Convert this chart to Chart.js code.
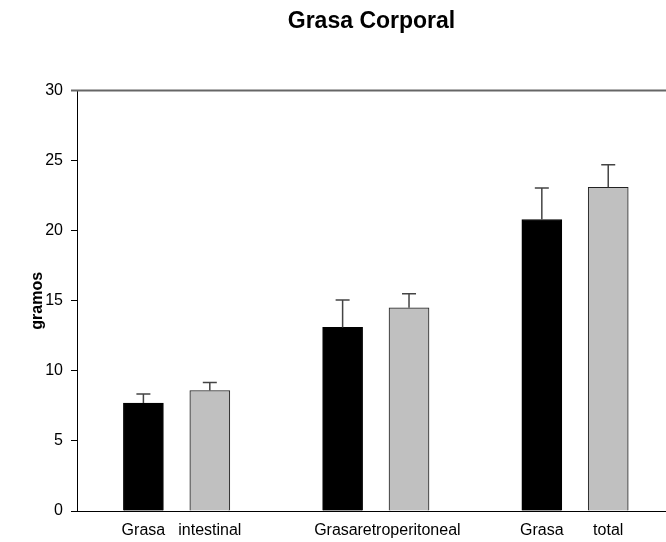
<!DOCTYPE html>
<html>
<head>
<meta charset="utf-8">
<script src="https://cdn.jsdelivr.net/npm/chart.js@4.4.0/dist/chart.umd.min.js"></script>
<style>
  body { margin: 0; background: #fff; }
</style>
</head>
<body>
<canvas id="graph1" width="666" height="542"></canvas>
<script>
// data
var groupNames = ['Grasa intestinal', 'Grasa retroperitoneal', 'Grasa total'];
var tickLabels = ['Grasa', 'intestinal', 'Grasa', 'retroperitoneal', 'Grasa', 'total'];
var blackValues = [7.7, 13.1, 20.8];
var blackErrors = [0.65, 1.95, 2.25];
var greyValues = [8.6, 14.5, 23.1];
var greyErrors = [0.57, 1.0, 1.6];
var yTicks = [0, 5, 10, 15, 20, 25, 30];

var font = "'Liberation Sans', Arial, sans-serif";

// each group takes 3 slots on the x scale: black bar, grey bar, gap
function toPoints(values, slot) {
  return values.map(function (v, g) {
    return { x: g * 3 + slot, y: v };
  });
}

// upper error bars with a cap
var errorBars = {
  id: 'errorBars',
  afterDatasetsDraw: function (chart) {
    var ctx = chart.ctx;
    var yScale = chart.scales.y;
    chart.data.datasets.forEach(function (ds, i) {
      chart.getDatasetMeta(i).data.forEach(function (bar, j) {
        var top = yScale.getPixelForValue(ds.data[j].y + ds.errors[j]);
        ctx.save();
        ctx.strokeStyle = '#444';
        ctx.lineWidth = 1.5;
        ctx.beginPath();
        ctx.moveTo(bar.x, bar.y);
        ctx.lineTo(bar.x, top);
        ctx.moveTo(bar.x - 7, top);
        ctx.lineTo(bar.x + 7, top);
        ctx.stroke();
        ctx.restore();
      });
    });
  }
};

// grey line along the top of the plot
var topLine = {
  id: 'topLine',
  afterDraw: function (chart) {
    var ctx = chart.ctx;
    var area = chart.chartArea;
    var y = chart.scales.y.getPixelForValue(yTicks[yTicks.length - 1]);
    ctx.save();
    ctx.strokeStyle = '#666';
    ctx.lineWidth = 2;
    ctx.beginPath();
    ctx.moveTo(area.left - 6, y);
    ctx.lineTo(area.right, y);
    ctx.stroke();
    ctx.restore();
  }
};

function makeChart() {
  var canvas = document.getElementById('graph1');
  var ctx = canvas.getContext('2d');

  var chart = new Chart(ctx, {
    type: 'bar',
    data: {
      datasets: [
        {
          label: 'A',
          data: toPoints(blackValues, 0),
          errors: blackErrors,
          backgroundColor: '#000',
          borderColor: '#000',
          borderWidth: 1
        },
        {
          label: 'B',
          data: toPoints(greyValues, 1),
          errors: greyErrors,
          backgroundColor: '#c0c0c0',
          borderColor: '#222',
          borderWidth: 1
        }
      ]
    },
    options: {
      responsive: false,
      animation: false,
      grouped: false,
      barThickness: 40,
      layout: { padding: { left: 24, right: 0, top: 0, bottom: 4 } },
      plugins: {
        legend: { display: false },
        tooltip: { enabled: false },
        title: {
          display: true,
          text: 'Grasa Corporal',
          fullSize: false,
          color: '#000',
          font: { family: font, size: 23, weight: 'bold' },
          padding: { top: 8, bottom: 55 }
        }
      },
      scales: {
        x: {
          type: 'linear',
          offset: false,
          min: -1,
          max: 7.87,
          grid: { display: false, drawTicks: false },
          border: { display: true, color: '#000', width: 1 },
          afterBuildTicks: function (scale) {
            scale.ticks = tickLabels.map(function (t, i) {
              return { value: Math.floor(i / 2) * 3 + (i % 2) };
            });
          },
          afterFit: function (scale) { scale.height = 27; },
          ticks: {
            autoSkip: false,
            maxRotation: 0,
            padding: 10,
            color: '#000',
            font: { family: font, size: 16 },
            callback: function (v, i) {
              // the middle pair of labels run together in the original
              return i === 2 ? tickLabels[i] + '   ' : tickLabels[i];
            }
          }
        },
        y: {
          min: 0,
          max: 30,
          afterBuildTicks: function (scale) {
            scale.ticks = yTicks.map(function (v) { return { value: v }; });
          },
          afterFit: function (scale) { scale.width = 53; },
          grid: { drawOnChartArea: false, tickLength: 6, color: '#000' },
          border: { display: true, color: '#000', width: 1 },
          ticks: {
            padding: 8,
            color: '#000',
            font: { family: font, size: 16 }
          },
          title: {
            display: true,
            text: 'gramos',
            color: '#000',
            font: { family: font, size: 16, weight: 'bold' },
            padding: { top: 4, bottom: 0 }
          }
        }
      }
    },
    plugins: [errorBars, topLine]
  });
}

makeChart();
</script>
</body>
</html>
